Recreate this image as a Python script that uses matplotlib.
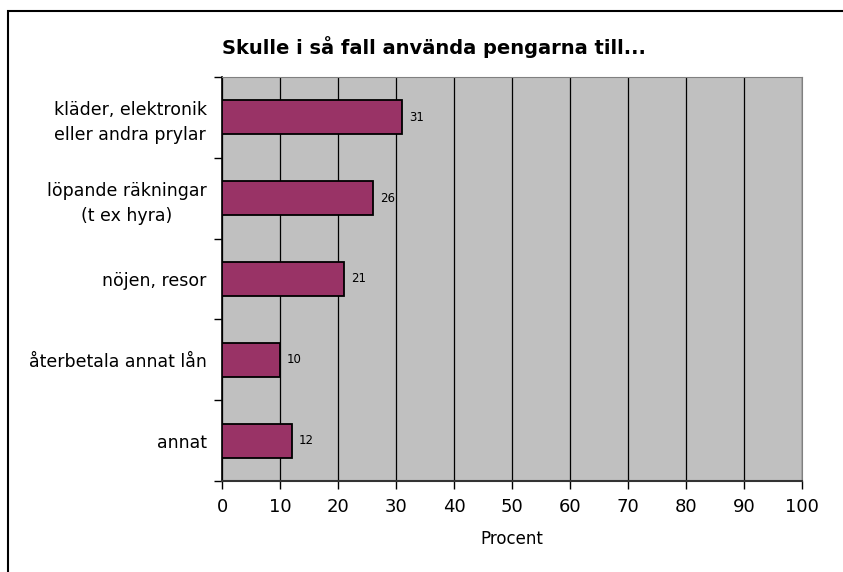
import matplotlib.pyplot as plt
from matplotlib.patches import Rectangle

categories = [
    "kläder, elektronik\neller andra prylar",
    "löpande räkningar\n(t ex hyra)",
    "nöjen, resor",
    "återbetala annat lån",
    "annat",
]
values = [31, 26, 21, 10, 12]
xticks = list(range(0, 101, 10))

W, H = 843, 572
fig = plt.figure(figsize=(W / 100, H / 100), dpi=100)

# outer frame (runs off the right and bottom edges)
fig.patches.append(Rectangle((8 / W, -0.05), 1.0, 1 - 11 / H + 0.05,
                             transform=fig.transFigure, fill=False,
                             edgecolor="black", linewidth=1.5))

ax = fig.add_axes([222 / W, 1 - 481 / H, 580 / W, 404 / H])
ax.set_facecolor("#C0C0C0")

pos = list(range(len(categories)))
ax.barh(pos, values, height=0.42, color="#993366", edgecolor="black",
        linewidth=1.3, zorder=3)
for p, v in zip(pos, values):
    ax.annotate(str(v), (v, p), xytext=(5, 0), textcoords="offset points",
                va="center", ha="left", fontsize=8.5, color="black")

ax.set_xlim(0, 100)
ax.set_ylim(len(categories) - 0.5, -0.5)
ax.set_xticks(xticks)
ax.set_xticklabels([str(t) for t in xticks], fontsize=13)
ax.grid(axis="x", color="black", linewidth=0.9, zorder=1)

ax.set_yticks(pos)
ax.set_yticklabels(categories, fontsize=12.5, multialignment="center",
                   linespacing=1.45)
ax.tick_params(axis="y", length=0, pad=11)
ax.set_yticks([p - 0.5 for p in pos] + [len(categories) - 0.5], minor=True)
ax.tick_params(axis="y", which="minor", length=6, width=1, direction="out")
ax.tick_params(axis="x", length=6, width=1, direction="out", pad=6)

ax.spines["left"].set_linewidth(1.2)
ax.spines["bottom"].set_linewidth(1.5)
ax.spines["bottom"].set_color("#333333")
ax.spines["top"].set_color("#808080")
ax.spines["right"].set_color("#808080")

ax.set_xlabel("Procent", fontsize=12, labelpad=10)
fig.text(434 / W, 1 - 47 / H, "Skulle i så fall använda pengarna till...",
         ha="center", va="center", fontsize=14, fontweight="bold")

fig.savefig("out.png", dpi=100)
